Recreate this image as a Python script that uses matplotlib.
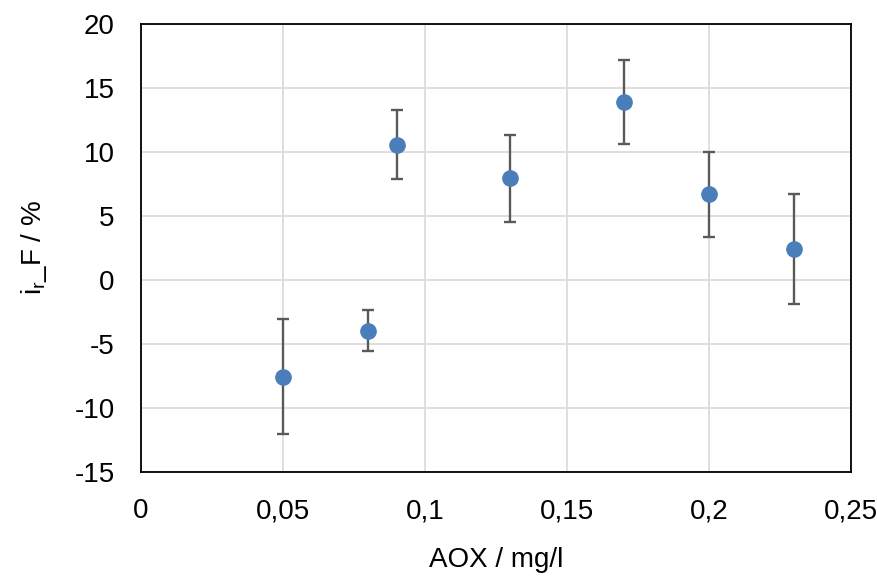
import matplotlib
matplotlib.use("Agg")
import matplotlib.pyplot as plt
from matplotlib.ticker import FuncFormatter, MultipleLocator

plt.rcParams["font.family"] = ["Liberation Sans", "DejaVu Sans"]
plt.rcParams["mathtext.fontset"] = "custom"
plt.rcParams["mathtext.rm"] = "Liberation Sans"
plt.rcParams["mathtext.it"] = "Liberation Sans"

# AOX concentration and relative change of F with its uncertainty
aox = [0.05, 0.08, 0.09, 0.13, 0.17, 0.20, 0.23]
ir_f = [-7.55, -3.98, 10.57, 7.94, 13.9, 6.69, 2.42]
ir_f_err = [4.5, 1.6, 2.7, 3.4, 3.3, 3.3, 4.3]

fig = plt.figure(figsize=(8.78, 5.76), dpi=100)
ax = fig.add_axes([141 / 878, 1 - 472 / 576, 710 / 878, 448 / 576])

ax.errorbar(aox, ir_f, yerr=ir_f_err, fmt="o", color="#4A7EBB",
            markersize=11, ecolor="#595959", elinewidth=1.7,
            capsize=4.3, capthick=1.7, zorder=3)

ax.set_xlim(0, 0.25)
ax.set_ylim(-15, 20)
ax.xaxis.set_major_locator(MultipleLocator(0.05))
ax.yaxis.set_major_locator(MultipleLocator(5))


def comma_fmt(v, pos):
    s = f"{v:.2f}".rstrip("0").rstrip(".")
    return s.replace(".", ",")


ax.xaxis.set_major_formatter(FuncFormatter(comma_fmt))
ax.yaxis.set_major_formatter(FuncFormatter(lambda v, p: f"{v:.0f}"))

ax.grid(True, color="#D9D9D9", linewidth=1.2)
ax.set_axisbelow(True)
for sp in ax.spines.values():
    sp.set_color("black")
    sp.set_linewidth(1.3)

ax.tick_params(length=0, labelsize=20)
ax.tick_params(axis="x", pad=19)
ax.tick_params(axis="y", pad=19)

ax.set_xlabel("AOX / mg/l", fontsize=20, labelpad=16)
ax.set_ylabel(r"i$_{\mathrm{r}}$_F / %", fontsize=20, labelpad=18)

fig.savefig("out.png", dpi=100)
